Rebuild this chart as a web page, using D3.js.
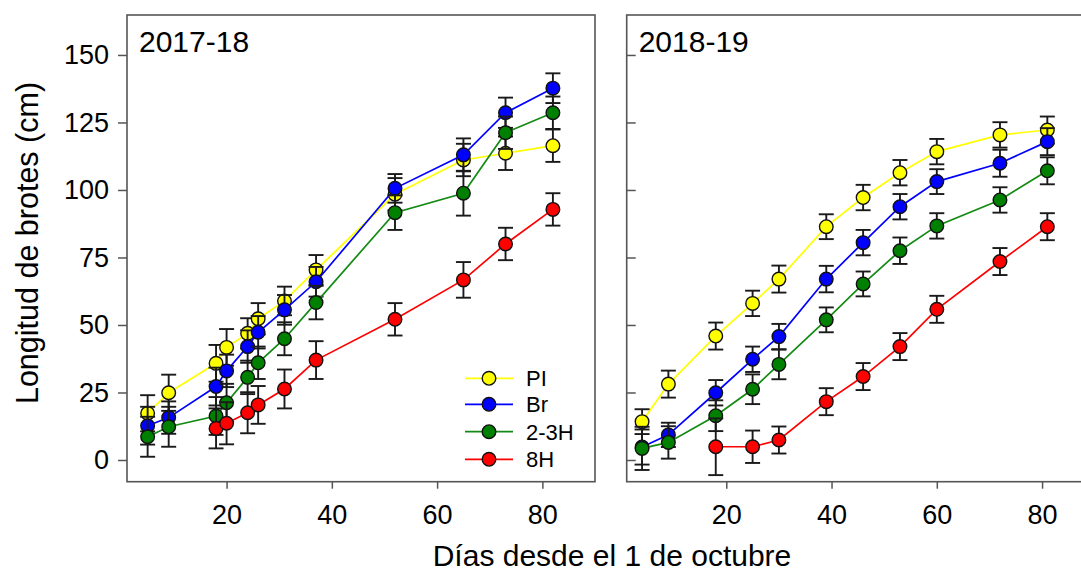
<!DOCTYPE html>
<html>
<head>
<meta charset="utf-8">
<script src="https://cdn.jsdelivr.net/npm/d3@7"></script>
<style>
  html, body { margin: 0; padding: 0; background: #fff; }
  svg text { font-family: "Liberation Sans", Arial, sans-serif; fill: #000; }
</style>
</head>
<body>
<svg id="chart" width="1081" height="572"></svg>
<script>
// ---------- DATA ----------
const seriesNames = ["PI", "Br", "2-3H", "8H"];
const seriesColors = ["#ffff00", "#0000ff", "#008000", "#ff0000"];

const panelTitles = ["2017-18", "2018-19"];

const days1718 = [5, 9, 18, 20, 24, 26, 31, 37, 52, 65, 73, 82];
const pi1718   = [17.3, 24.9, 35.8, 41.7, 46.9, 52.3, 58.9, 70.4, 98.4, 111.1, 113.6, 116.4];
const br1718   = [12.7, 15.7, 27.2, 33.0, 42.0, 47.3, 55.6, 66.0, 100.6, 113.0, 128.6, 137.7];
const h23_1718 = [8.6, 12.3, 16.3, 21.2, 30.6, 36.0, 44.9, 58.3, 91.6, 98.8, 121.2, 128.6];
const h8_1718  = [null, null, 11.7, 13.6, 17.5, 20.4, 26.3, 37.0, 52.1, 66.7, 80.0, 92.8];
const piErr1718  = [6.7, 6.7, 6.8, 6.8, 5.6, 5.8, 5.3, 5.5, 6.0, 6.0, 6.2, 6.0];
const brErr1718  = [7.0, 6.0, 7.0, 6.0, 6.0, 6.0, 5.5, 5.5, 5.3, 6.1, 5.6, 5.5];
const h23Err1718 = [7.4, 7.4, 7.0, 7.0, 6.2, 6.0, 6.1, 6.2, 6.4, 8.3, 6.0, 6.0];
const h8Err1718  = [null, null, 7.4, 7.8, 7.6, 7.0, 7.2, 7.0, 6.0, 6.6, 6.0, 6.0];

const days1819 = [4, 9, 18, 25, 30, 39, 46, 53, 60, 72, 81];
const pi1819   = [14.2, 28.1, 45.9, 58.0, 67.0, 86.4, 97.2, 106.4, 114.2, 120.4, 122.2];
const br1819   = [4.8, 9.3, 24.9, 37.3, 45.7, 67.0, 80.5, 93.8, 103.1, 109.9, 117.9];
const h23_1819 = [4.3, 6.5, 16.4, 26.2, 35.4, 51.9, 65.2, 77.5, 86.7, 96.3, 107.1];
const h8_1819  = [null, null, 4.9, 4.9, 7.4, 21.6, 30.9, 42.0, 55.8, 73.5, 86.4];
const piErr1819  = [4.6, 5.0, 5.0, 4.7, 5.0, 4.6, 4.7, 4.7, 4.7, 4.7, 5.0];
const brErr1819  = [6.5, 4.5, 4.7, 4.7, 4.7, 4.9, 4.7, 4.7, 4.6, 5.0, 5.0];
const h23Err1819 = [8.0, 6.0, 5.7, 5.5, 5.5, 4.6, 4.6, 4.9, 4.7, 4.7, 5.0];
const h8Err1819  = [null, null, 10.5, 6.0, 5.0, 5.0, 5.0, 5.0, 5.0, 5.0, 5.0];

const yTicks = [0, 25, 50, 75, 100, 125, 150];
const xTicks = [20, 40, 60, 80];
const xLabel = "Días desde el 1 de octubre";
const yLabel = "Longitud de brotes (cm)";

// ---------- BUILD ----------
const panels = [
  { title: panelTitles[0], days: days1718,
    values: [pi1718, br1718, h23_1718, h8_1718],
    errs: [piErr1718, brErr1718, h23Err1718, h8Err1718] },
  { title: panelTitles[1], days: days1819,
    values: [pi1819, br1819, h23_1819, h8_1819],
    errs: [piErr1819, brErr1819, h23Err1819, h8Err1819] }
];

const svg = d3.select("#chart");
const frameColor = "#555";
const plotTop = 15, plotBottom = 481.7;
const panelLefts = [127, 626.7];
const panelWidth = 468;
const fontFam = '"Liberation Sans", Arial, sans-serif';

const y = d3.scaleLinear().domain([-8.04, 164.8]).range([plotBottom, plotTop]);

panels.forEach((p, pi) => {
  const left = panelLefts[pi];
  const x = d3.scaleLinear().domain([1.08, 90]).range([left, left + panelWidth]);
  const g = svg.append("g");

  // frame
  g.append("rect")
    .attr("x", left).attr("y", plotTop)
    .attr("width", panelWidth).attr("height", plotBottom - plotTop)
    .attr("fill", "none").attr("stroke", frameColor).attr("stroke-width", 1.6);

  // x axis
  const xAxis = d3.axisBottom(x).tickValues(xTicks).tickSize(7).tickPadding(16).tickFormat(d3.format("d"));
  const xa = g.append("g").attr("transform", `translate(0,${plotBottom})`).call(xAxis);
  xa.select(".domain").remove();
  xa.selectAll(".tick line").attr("stroke", frameColor).attr("stroke-width", 1.5);
  xa.selectAll(".tick text").style("font-size", "27px")
    .style("font-family", fontFam).attr("fill", "#000");

  // y axis
  if (pi === 0) {
    const yAxis = d3.axisLeft(y).tickValues(yTicks).tickSize(9).tickPadding(9).tickFormat(d3.format("d"));
    const ya = g.append("g").attr("transform", `translate(${left},0)`).call(yAxis);
    ya.select(".domain").remove();
    ya.selectAll(".tick line").attr("stroke", frameColor).attr("stroke-width", 1.5);
    ya.selectAll(".tick text").style("font-size", "27px")
      .style("font-family", fontFam).attr("fill", "#000");
  } else {
    const yAxis = d3.axisRight(y).tickValues(yTicks).tickSize(9).tickFormat("");
    const ya = g.append("g").attr("transform", `translate(${left},0)`).call(yAxis);
    ya.select(".domain").remove();
    ya.selectAll(".tick line").attr("stroke", frameColor).attr("stroke-width", 1.5);
  }

  // panel title
  g.append("text").attr("x", left + 12).attr("y", 52)
    .style("font-size", "30px").text(p.title);

  // series
  p.values.forEach((vals, si) => {
    const pts = p.days.map((d, i) => ({ d, v: vals[i], e: p.errs[si][i] }))
      .filter(o => o.v !== null);
    const color = seriesColors[si];
    const line = d3.line().x(o => x(o.d)).y(o => y(o.v));
    g.append("path").datum(pts)
      .attr("d", line).attr("fill", "none")
      .attr("stroke", si === 2 ? "#138a13" : color).attr("stroke-width", 1.7);

    const eb = g.append("g").attr("stroke", "#1a1a1a").attr("stroke-width", 1.9);
    pts.forEach(o => {
      eb.append("line").attr("x1", x(o.d)).attr("x2", x(o.d))
        .attr("y1", y(o.v - o.e)).attr("y2", y(o.v + o.e));
      [o.v - o.e, o.v + o.e].forEach(vv => {
        eb.append("line").attr("x1", x(o.d) - 7.5).attr("x2", x(o.d) + 7.5)
          .attr("y1", y(vv)).attr("y2", y(vv));
      });
    });

    g.append("g").selectAll("circle").data(pts).join("circle")
      .attr("cx", o => x(o.d)).attr("cy", o => y(o.v)).attr("r", 6.8)
      .attr("fill", color).attr("stroke", "#111").attr("stroke-width", 1.4);
  });
});

// legend
const legendRows = [378.3, 404.3, 431.7, 459.3];
const lg = svg.append("g");
seriesNames.forEach((name, i) => {
  const yy = legendRows[i];
  lg.append("line").attr("x1", 465).attr("x2", 513).attr("y1", yy).attr("y2", yy)
    .attr("stroke", i === 2 ? "#138a13" : seriesColors[i]).attr("stroke-width", 1.7);
  lg.append("circle").attr("cx", 489).attr("cy", yy).attr("r", 6.8)
    .attr("fill", seriesColors[i]).attr("stroke", "#111").attr("stroke-width", 1.4);
  lg.append("text").attr("x", 526).attr("y", yy).attr("dy", "0.36em")
    .style("font-size", "22px").text(name);
});

// axis titles
svg.append("text").attr("x", 612).attr("y", 566)
  .attr("text-anchor", "middle").style("font-size", "30px").text(xLabel);
svg.append("text")
  .attr("transform", "translate(38,243) rotate(-90)")
  .attr("text-anchor", "middle").style("font-size", "30.5px").text(yLabel);
</script>
</body>
</html>
